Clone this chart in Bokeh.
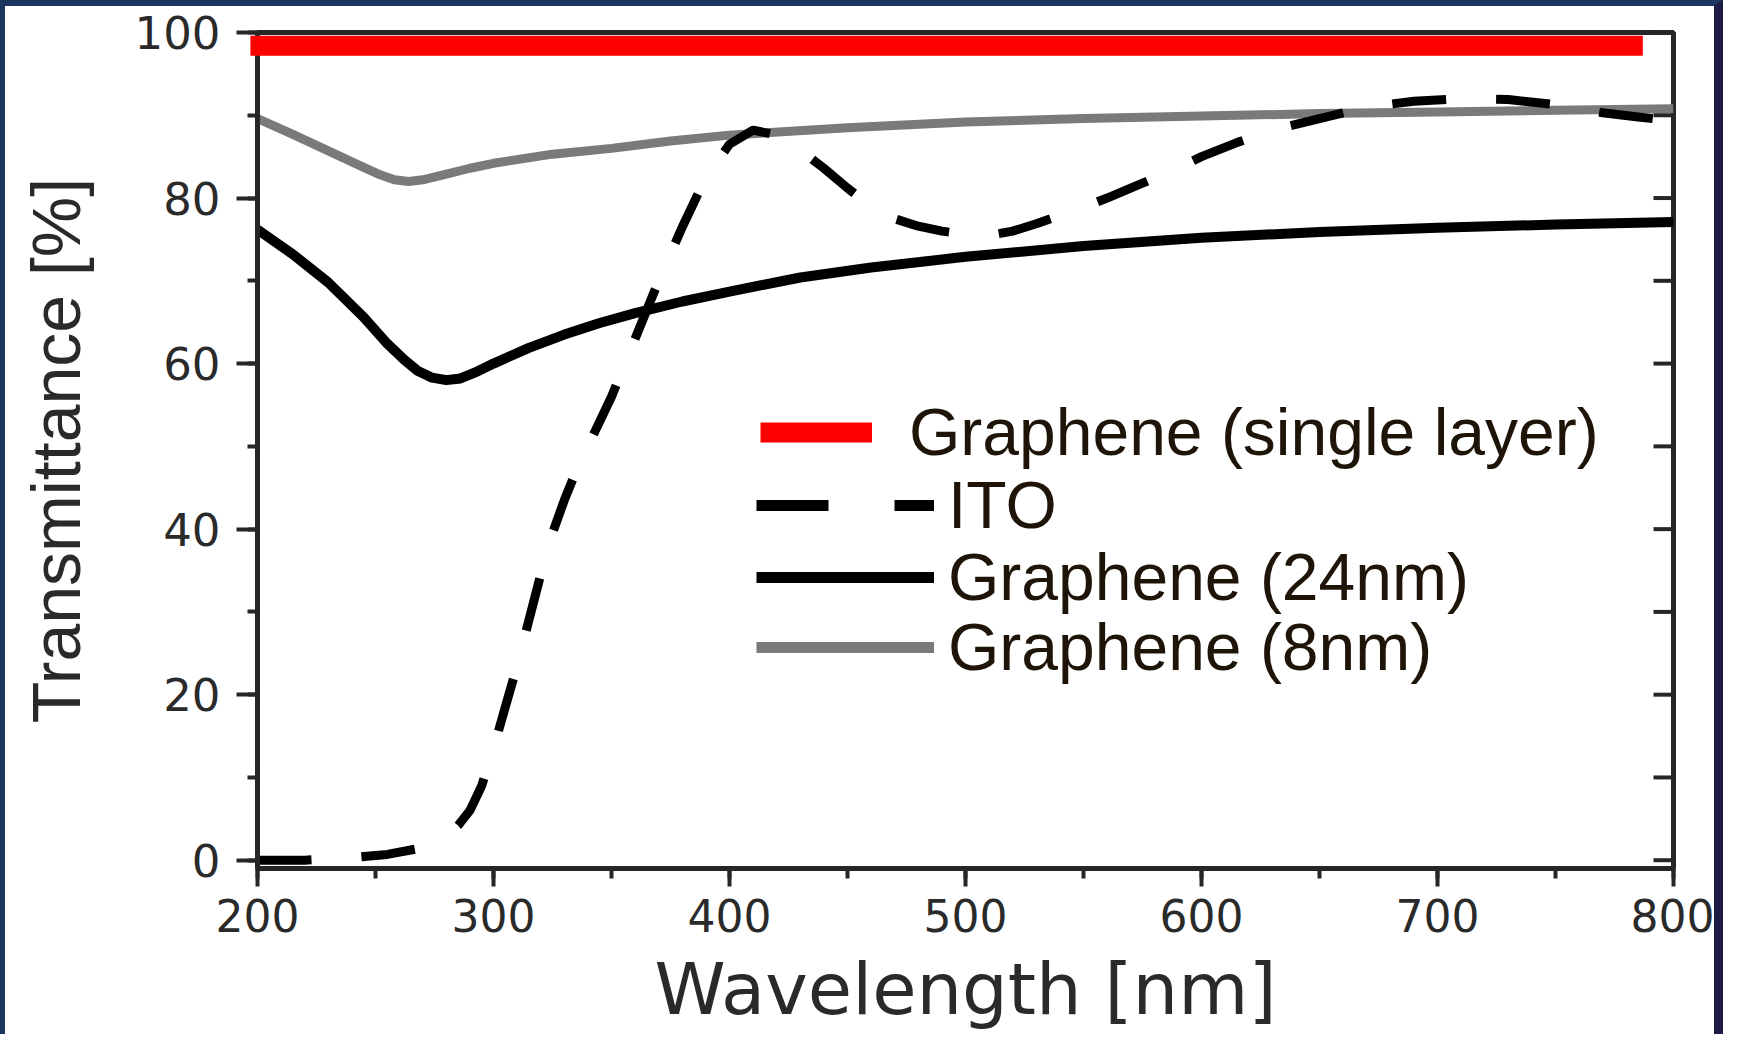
from bokeh.plotting import figure
from bokeh.models import (Range1d, SingleIntervalTicker, Legend, LegendItem)
from bokeh.embed import file_html
from bokeh.resources import INLINE

# ---------------- data ----------------
wavelength_single = [197, 787]
trans_single = [98.4, 98.4]

wavelength_ito = [200, 220, 240, 255, 270, 280, 285, 290, 295, 300,
                  305, 310, 315, 320, 325, 330, 335, 340, 350, 360,
                  370, 380, 390, 400, 410, 420, 430, 440, 450, 460,
                  470, 480, 490, 500, 510, 520, 530, 540, 550, 560,
                  575, 590, 600, 615, 630, 650, 670, 690, 710, 730,
                  750, 770, 785, 800]
trans_ito = [0, 0, 0.3, 0.7, 1.5, 3.0, 4.2, 6, 9, 13.5,
             18.5, 23.5, 29, 34.5, 39.5, 43.5, 47, 50, 56, 63,
             70, 76.5, 82.5, 86.5, 88.2, 87.6, 85.8, 83.6, 81.2, 79,
             77.5, 76.6, 76.0, 75.6, 75.5, 76, 76.9, 77.9, 78.9, 80,
             81.8, 83.6, 85, 86.7, 88.2, 89.6, 91, 91.7, 92, 91.9,
             91.3, 90.3, 89.8, 89.3]

wavelength_g24 = [200, 215, 230, 245, 255, 262, 268, 274, 280, 286,
                  292, 300, 315, 330, 345, 360, 380, 400, 430, 460,
                  500, 550, 600, 650, 700, 750, 800]
trans_g24 = [76.2, 73.2, 69.8, 65.6, 62.4, 60.5, 59.1, 58.3, 58.0, 58.2,
             58.9, 60.0, 61.9, 63.5, 64.9, 66.1, 67.5, 68.7, 70.4, 71.6,
             72.9, 74.2, 75.2, 75.9, 76.4, 76.8, 77.1]

wavelength_g8 = [200, 215, 230, 245, 252, 258, 264, 270, 280, 290,
                 300, 325, 350, 375, 400, 450, 500, 550, 600, 650,
                 700, 750, 800]
trans_g8 = [89.6, 87.7, 85.7, 83.7, 82.8, 82.2, 82.0, 82.2, 82.9, 83.6,
            84.2, 85.3, 86.0, 86.9, 87.6, 88.5, 89.2, 89.6, 89.9, 90.2,
            90.4, 90.6, 90.8]

labels = ["Graphene (single layer)", "ITO", "Graphene (24nm)", "Graphene (8nm)"]
right_tick_values = [0, 10, 20, 30, 40, 50, 60, 70, 80, 90, 100]
right_tick_x = [800] * len(right_tick_values)
key_x = [float("nan")]
key_y = [float("nan")]

# ---------------- figure ----------------
AX = "#262626"
p = figure(width=1723, height=1034,
           x_range=Range1d(200, 800), y_range=Range1d(-1, 100),
           output_backend="svg", toolbar_location=None,
           min_border_left=252, min_border_right=55,
           min_border_top=26, min_border_bottom=172,
           x_axis_label="Wavelength [nm]", y_axis_label="Transmittance [%]")
p.styles = {"border-left": "5px solid #1b355e",
            "border-top": "6px solid #1b355e",
            "border-right": "9px solid #1d1b45"}
p.grid.visible = False
p.background_fill_color = "white"
p.border_fill_color = "white"
p.outline_line_color = AX
p.outline_line_width = 5
p.outline_line_alpha = 1

xa = p.xaxis[0]
xa.ticker = SingleIntervalTicker(interval=100, num_minor_ticks=2)
xa.major_tick_out = 18
xa.major_tick_in = 0
xa.minor_tick_out = 10
xa.minor_tick_in = 0
xa.major_tick_line_width = 4
xa.minor_tick_line_width = 4
xa.major_tick_line_color = AX
xa.minor_tick_line_color = AX
xa.axis_line_width = 5
xa.axis_line_color = AX
xa.major_label_text_font = "DejaVu Sans"
xa.major_label_text_font_size = "44px"
xa.major_label_text_color = "#2a2a2a"
xa.major_label_standoff = 12
xa.axis_label_text_font = "DejaVu Sans"
xa.axis_label_text_font_size = "72px"
xa.axis_label_text_font_style = "normal"
xa.axis_label_text_color = "#2a2a2a"
xa.axis_label_standoff = 12

ya = p.yaxis[0]
ya.ticker = SingleIntervalTicker(interval=20, num_minor_ticks=2)
ya.major_tick_out = 21
ya.major_tick_in = 0
ya.minor_tick_out = 10
ya.minor_tick_in = 0
ya.major_tick_line_width = 4
ya.minor_tick_line_width = 4
ya.major_tick_line_color = AX
ya.minor_tick_line_color = AX
ya.axis_line_width = 5
ya.axis_line_color = AX
ya.major_label_text_font = "DejaVu Sans"
ya.major_label_text_font_size = "45px"
ya.major_label_text_color = "#2a2a2a"
ya.major_label_standoff = 16
ya.axis_label_text_font = "Liberation Sans"
ya.axis_label_text_font_size = "68px"
ya.axis_label_text_font_style = "normal"
ya.axis_label_text_color = "#2a2a2a"
ya.axis_label_standoff = 38

# inward ticks on the right spine: short rays pointing left from x = 800
p.ray(right_tick_x, right_tick_values, length=20, length_units="screen",
      angle=180, angle_units="deg", line_color=AX, line_width=4,
      level="overlay")

# ---------------- series ----------------
r8 = p.line(wavelength_g8, trans_g8, line_color="#7a7a7a", line_width=9,
            line_join="round")
r24 = p.line(wavelength_g24, trans_g24, line_color="black", line_width=10,
             line_join="round")
rito = p.line(wavelength_ito, trans_ito, line_color="black", line_width=9,
              line_dash="54 50", line_join="round")
rred = p.line(wavelength_single, trans_single, line_color="#ff0000",
              line_width=20, line_cap="butt", level="overlay")
# key-only glyphs (not drawn in the plot area)
rito_key = p.line(key_x, key_y, line_color="black", line_width=11,
                  line_dash="72 66")
r24_key = p.line(key_x, key_y, line_color="black", line_width=11)
r8_key = p.line(key_x, key_y, line_color="#7a7a7a", line_width=11)

LEG_FONT = "Liberation Sans"
LEG_COL = "#1e1408"


def make_legend(label, renderer, loc, gw, standoff):
    return Legend(items=[LegendItem(label=label, renderers=[renderer])],
                  location=loc, glyph_width=gw, glyph_height=72,
                  label_height=72, label_standoff=standoff, padding=0,
                  margin=0, spacing=0, border_line_alpha=0,
                  background_fill_alpha=0, label_text_font=LEG_FONT,
                  label_text_font_size="66px", label_text_color=LEG_COL)


p.add_layout(make_legend(labels[0], rred, (503, 398), 112, 37))
p.add_layout(make_legend(labels[1], rito_key, (499, 325), 178, 14))
p.add_layout(make_legend(labels[2], r24_key, (499, 253), 178, 14))
p.add_layout(make_legend(labels[3], r8_key, (499, 183), 178, 14))

open("out.html", "w").write(file_html(p, INLINE))
